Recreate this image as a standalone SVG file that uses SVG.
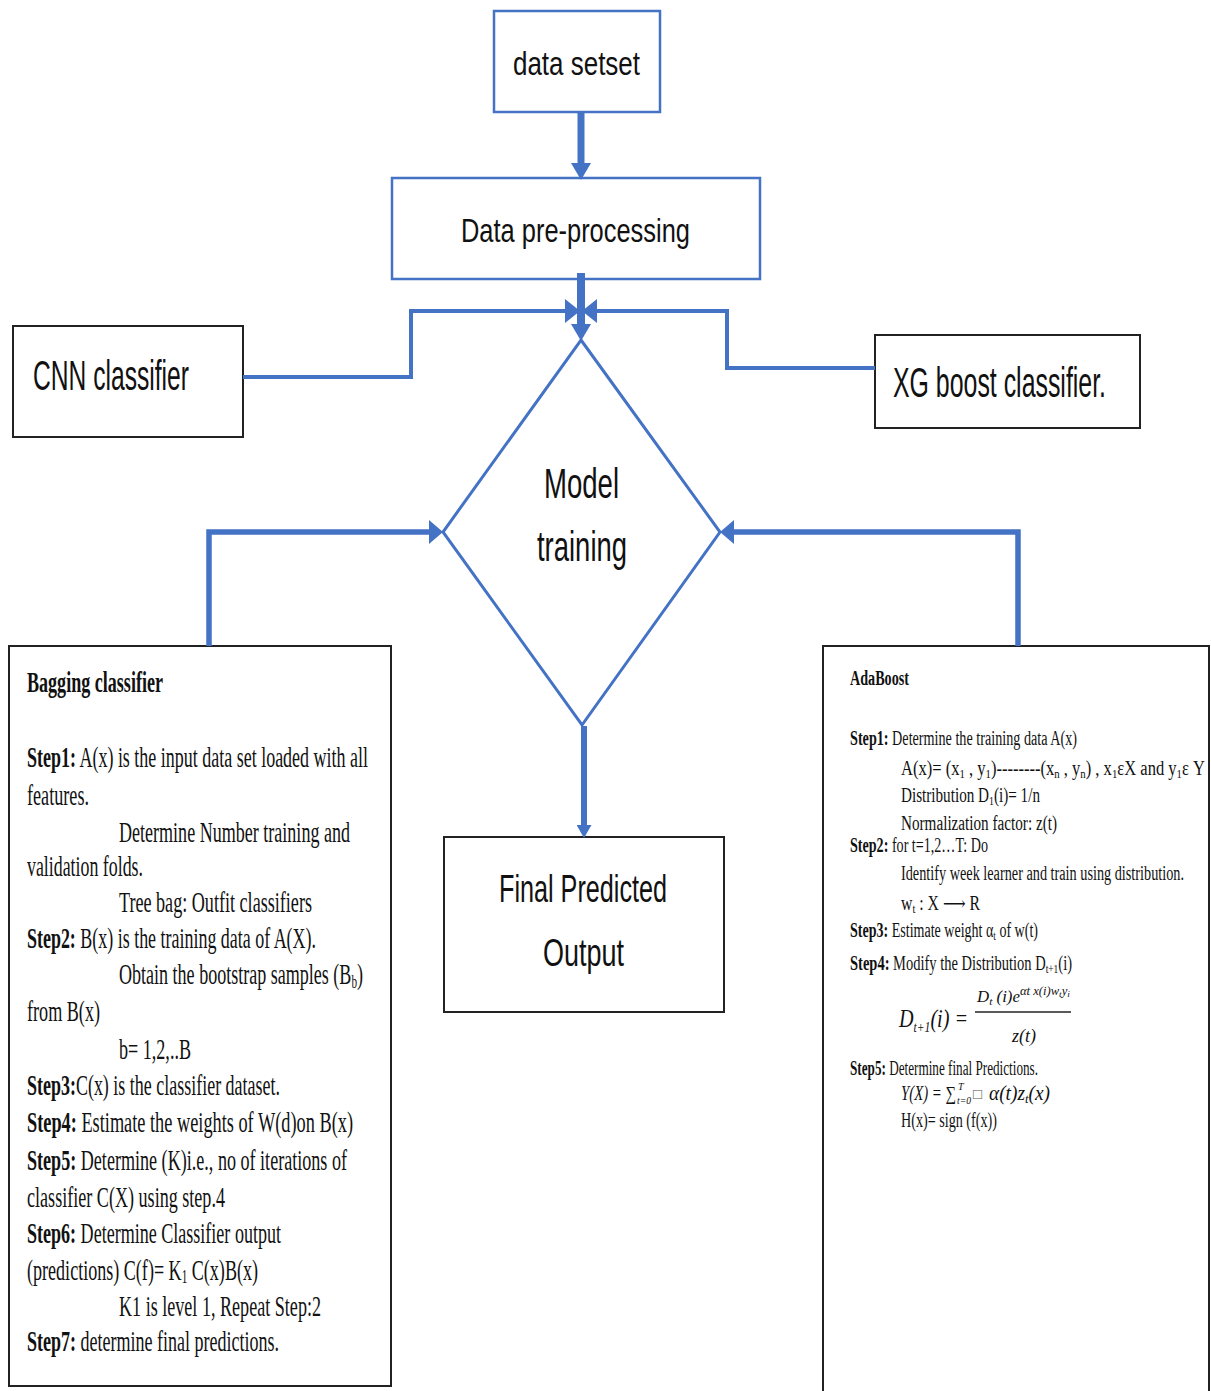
<svg xmlns="http://www.w3.org/2000/svg" width="1211" height="1391" viewBox="0 0 1211 1391">
<style>
.bbox{fill:#fff;stroke:#4472C4;stroke-width:2.5}
.kbox{fill:#fff;stroke:#222;stroke-width:2}
.sans{font-family:"Liberation Sans","Noto Sans",sans-serif;fill:#111}
.ser{font-family:"Liberation Serif","DejaVu Serif",serif;fill:#111}
.b{font-weight:bold}
.ln{fill:none;stroke:#4472C4;stroke-linejoin:miter}
.it{font-style:italic}
</style>
<defs>
<marker id="m1" viewBox="0 0 17 20" refX="2" refY="10" markerWidth="17" markerHeight="20" markerUnits="userSpaceOnUse" orient="auto"><path d="M0,0 L17,10 L0,20 z" fill="#4472C4"/></marker>
<marker id="m2" viewBox="0 0 15 24" refX="2" refY="12" markerWidth="15" markerHeight="24" markerUnits="userSpaceOnUse" orient="auto"><path d="M0,0 L15,12 L0,24 z" fill="#4472C4"/></marker>
<marker id="m3" viewBox="0 0 14 24" refX="2" refY="12" markerWidth="14" markerHeight="24" markerUnits="userSpaceOnUse" orient="auto"><path d="M0,0 L14,12 L0,24 z" fill="#4472C4"/></marker>
<marker id="m4" viewBox="0 0 13 15" refX="2" refY="7.5" markerWidth="13" markerHeight="15" markerUnits="userSpaceOnUse" orient="auto"><path d="M0,0 L13,7.5 L0,15 z" fill="#4472C4"/></marker>
</defs>
<rect width="1211" height="1391" fill="#fff"/>

<g id="dataset">
<rect class="bbox" x="494" y="11" width="166" height="101"/>
<text class="sans" x="513" y="75" font-size="34" textLength="127" lengthAdjust="spacingAndGlyphs">data setset</text>
</g>

<g id="preprocessing">
<rect class="bbox" x="392" y="178" width="368" height="101"/>
<text class="sans" x="461" y="242" font-size="33" textLength="229" lengthAdjust="spacingAndGlyphs">Data pre-processing</text>
</g>

<g id="cnn">
<rect class="kbox" x="13" y="326" width="230" height="111"/>
<text class="sans" x="33" y="390" font-size="43" textLength="156" lengthAdjust="spacingAndGlyphs">CNN classifier</text>
</g>

<g id="xgboost">
<rect class="kbox" x="875" y="335" width="265" height="93"/>
<text class="sans" x="893" y="397" font-size="43" textLength="213" lengthAdjust="spacingAndGlyphs">XG boost classifier.</text>
</g>

<g id="model-training">
<polygon points="581,340 720,532 582,725 443,532" fill="none" stroke="#4472C4" stroke-width="3"/>
<text class="sans" x="544" y="498" font-size="43" textLength="75" lengthAdjust="spacingAndGlyphs">Model</text>
<text class="sans" x="537" y="561" font-size="43" textLength="90" lengthAdjust="spacingAndGlyphs">training</text>
</g>

<g id="final-output">
<rect class="kbox" x="444" y="837" width="280" height="175"/>
<text class="sans" x="499" y="902" font-size="38" textLength="168" lengthAdjust="spacingAndGlyphs">Final Predicted</text>
<text class="sans" x="543" y="966" font-size="38" textLength="81" lengthAdjust="spacingAndGlyphs">Output</text>
</g>

<g id="bagging">
<rect class="kbox" x="9" y="646" width="382" height="740"/>
<g class="ser" font-size="29">
<text x="27" y="692" class="b" textLength="136" lengthAdjust="spacingAndGlyphs">Bagging classifier</text>
<text x="27" y="767" textLength="341" lengthAdjust="spacingAndGlyphs"><tspan class="b">Step1:</tspan> A(x) is the input data set loaded with all</text>
<text x="27" y="805" textLength="62" lengthAdjust="spacingAndGlyphs">features.</text>
<text x="119" y="842" textLength="231" lengthAdjust="spacingAndGlyphs">Determine Number training and</text>
<text x="27" y="876" textLength="116" lengthAdjust="spacingAndGlyphs">validation folds.</text>
<text x="119" y="912" textLength="193" lengthAdjust="spacingAndGlyphs">Tree bag: Outfit classifiers</text>
<text x="27" y="948" textLength="289" lengthAdjust="spacingAndGlyphs"><tspan class="b">Step2:</tspan> B(x) is the training data of A(X).</text>
<text x="119" y="984" textLength="244" lengthAdjust="spacingAndGlyphs">Obtain the bootstrap samples (B<tspan font-size="18" y="988">b</tspan><tspan y="984">)</tspan></text>
<text x="27" y="1021" textLength="73" lengthAdjust="spacingAndGlyphs">from B(x)</text>
<text x="119" y="1059" textLength="72" lengthAdjust="spacingAndGlyphs">b= 1,2,..B</text>
<text x="27" y="1095" textLength="253" lengthAdjust="spacingAndGlyphs"><tspan class="b">Step3:</tspan>C(x) is the classifier dataset.</text>
<text x="27" y="1132" textLength="326" lengthAdjust="spacingAndGlyphs"><tspan class="b">Step4:</tspan>  Estimate the weights of W(d)on B(x)</text>
<text x="27" y="1170" textLength="320" lengthAdjust="spacingAndGlyphs"><tspan class="b">Step5:</tspan> Determine (K)i.e., no of iterations of</text>
<text x="27" y="1207" textLength="198" lengthAdjust="spacingAndGlyphs">classifier C(X) using step.4</text>
<text x="27" y="1243" textLength="254" lengthAdjust="spacingAndGlyphs"><tspan class="b">Step6:</tspan> Determine Classifier output</text>
<text x="27" y="1280" textLength="231" lengthAdjust="spacingAndGlyphs">(predictions) C(f)= K<tspan font-size="18" y="1283">1</tspan><tspan y="1280"> C(x)B(x)</tspan></text>
<text x="119" y="1316" textLength="202" lengthAdjust="spacingAndGlyphs">K1 is level 1, Repeat Step:2</text>
<text x="27" y="1351" textLength="252" lengthAdjust="spacingAndGlyphs"><tspan class="b">Step7:</tspan> determine final predictions.</text>
</g>
</g>

<g id="adaboost">
<rect class="kbox" x="823" y="646" width="386" height="760"/>
<g class="ser" font-size="20">
<text x="850" y="685" class="b" textLength="59" lengthAdjust="spacingAndGlyphs">AdaBoost</text>
<text x="850" y="745" textLength="227" lengthAdjust="spacingAndGlyphs"><tspan class="b">Step1:</tspan> Determine the training data A(x)</text>
<text x="901" y="775" textLength="304" lengthAdjust="spacingAndGlyphs">A(x)= (x<tspan font-size="13" y="778">1</tspan><tspan y="775"> , y</tspan><tspan font-size="13" y="778">1</tspan><tspan y="775">)--------(x</tspan><tspan font-size="13" y="778">n</tspan><tspan y="775"> , y</tspan><tspan font-size="13" y="778">n</tspan><tspan y="775">) , x</tspan><tspan font-size="13" y="778">1</tspan><tspan y="775">εX and y</tspan><tspan font-size="13" y="778">1</tspan><tspan y="775">ε Y</tspan></text>
<text x="901" y="802" textLength="139" lengthAdjust="spacingAndGlyphs">Distribution D<tspan font-size="13" y="805">1</tspan><tspan y="802">(i)= 1/n</tspan></text>
<text x="901" y="830" textLength="156" lengthAdjust="spacingAndGlyphs">Normalization factor: z(t)</text>
<text x="850" y="852" textLength="138" lengthAdjust="spacingAndGlyphs"><tspan class="b">Step2:</tspan> for t=1,2…T: Do</text>
<text x="901" y="880" textLength="283" lengthAdjust="spacingAndGlyphs">Identify week learner and train using distribution.</text>
<text x="901" y="910" textLength="79" lengthAdjust="spacingAndGlyphs">w<tspan font-size="13" y="913">t</tspan><tspan y="910"> : X ⟶ R</tspan></text>
<text x="850" y="937" textLength="188" lengthAdjust="spacingAndGlyphs"><tspan class="b">Step3:</tspan> Estimate weight α<tspan font-size="13" y="940">t</tspan><tspan y="937"> of w(t)</tspan></text>
<text x="850" y="970" textLength="222" lengthAdjust="spacingAndGlyphs"><tspan class="b">Step4:</tspan> Modify the Distribution D<tspan font-size="13" y="973">t+1</tspan><tspan y="970">(i)</tspan></text>
<text x="899" y="1027" class="it" font-size="26" textLength="69" lengthAdjust="spacingAndGlyphs">D<tspan font-size="15" y="1032">t+1</tspan><tspan y="1027">(i) =</tspan></text>
<text x="977" y="1002" class="it" font-size="16" textLength="93" lengthAdjust="spacingAndGlyphs">D<tspan font-size="11" y="1005">t</tspan><tspan y="1002"> (i)e</tspan><tspan font-size="12" y="995">αt x(i)w</tspan><tspan font-size="9" y="997">t</tspan><tspan font-size="12" y="995">y</tspan><tspan font-size="9" y="997">i</tspan></text>
<line x1="975" y1="1012" x2="1071" y2="1012" stroke="#222" stroke-width="1.5"/>
<text x="1024" y="1042" class="it" font-size="18" text-anchor="middle">z(t)</text>
<text x="850" y="1075" textLength="188" lengthAdjust="spacingAndGlyphs"><tspan class="b">Step5:</tspan> Determine final Predictions.</text>
<text x="901" y="1100" class="it" textLength="55" lengthAdjust="spacingAndGlyphs">Y(X) = ∑</text>
<text x="958" y="1090" class="it" font-size="10">T</text>
<text x="957" y="1104" class="it" font-size="10" textLength="14" lengthAdjust="spacingAndGlyphs">t=0</text>
<text x="973" y="1099" font-size="15" fill="#555">□</text>
<text x="989" y="1100" class="it" textLength="61" lengthAdjust="spacingAndGlyphs">α(t)z<tspan font-size="13" y="1103">t</tspan><tspan y="1100">(x)</tspan></text>
<text x="901" y="1127" textLength="96" lengthAdjust="spacingAndGlyphs">H(x)= sign (f(x))</text>
</g>
</g>

<g id="connectors">
<line class="ln" x1="581" y1="112" x2="581" y2="165" stroke-width="7" marker-end="url(#m1)"/>
<line class="ln" x1="581" y1="273" x2="581" y2="326" stroke-width="8" marker-end="url(#m1)"/>
<polyline class="ln" points="243,377 411,377 411,311 567,311" stroke-width="4" marker-end="url(#m2)"/>
<polyline class="ln" points="875,368 727,368 727,311 595,311" stroke-width="4" marker-end="url(#m2)"/>
<polyline class="ln" points="209,646 209,532 431,532" stroke-width="5.5" marker-end="url(#m3)"/>
<polyline class="ln" points="1018,646 1018,532 732,532" stroke-width="5.5" marker-end="url(#m3)"/>
<line class="ln" x1="584" y1="726" x2="584" y2="827" stroke-width="6" marker-end="url(#m4)"/>
</g>
</svg>
